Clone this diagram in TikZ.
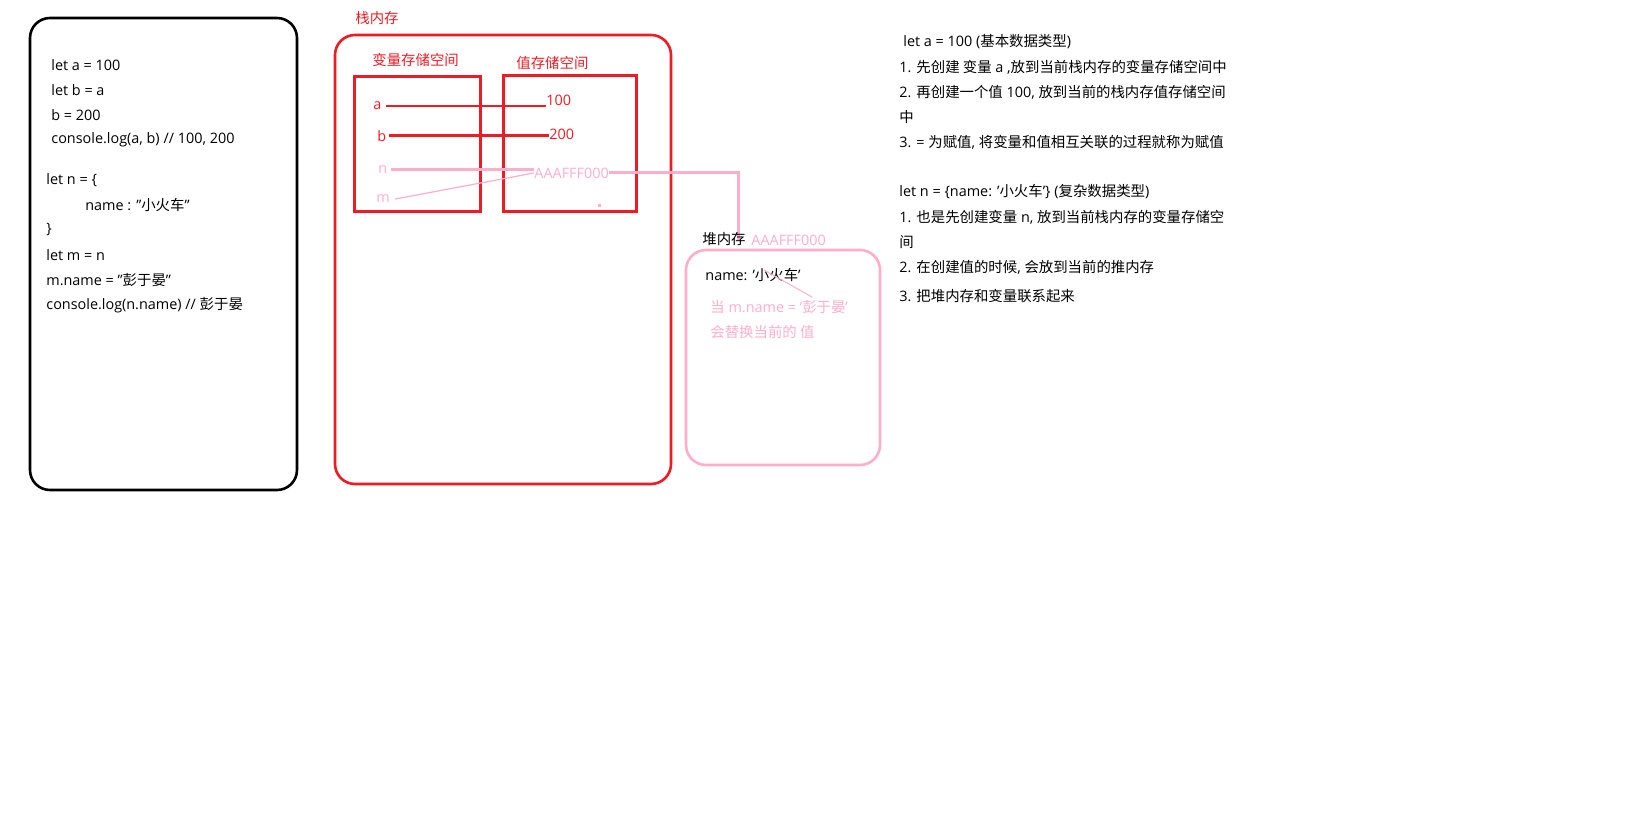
\documentclass[tikz,border=0pt]{standalone}
\usepackage{fontspec}
\setmainfont{Open Sans}
\newfontfamily\cjk{Noto Sans CJK SC}
\newcommand{\zh}[1]{{\cjk #1}}
\definecolor{rd}{HTML}{ED1C24}
\definecolor{pk}{HTML}{FFAEC9}
\begin{document}
\begin{tikzpicture}[x=0.5pt,y=-0.5pt,
  t/.style={anchor=west,inner sep=0pt,font=\fontsize{7.2}{8}\selectfont},
  box/.style={draw,line width=1.3pt,rounded corners=10pt}]
\useasboundingbox (0,0) rectangle (1631,822);
% left code box
\draw[box,black] (30,18) rectangle (297,490);
\foreach \y/\s [count=\i] in {65/{let a = 100},90/{let b = a},115/{b = 200},140/{console.log(a, b) // 100, 200}}
  \node[t] (c\i) at (51,\y) {\s};
\node[t] (c5) at (46,180) {let n = \{};
\node[t] (c6) at (85,205) {name : "\zh{小火车}"};
\node[t] (c7) at (46,230) {\}};
\node[t] (c8) at (46,255) {let m = n};
\node[t] (c9) at (46,280) {m.name = "\zh{彭于晏}"};
\node[t] (c10) at (46,305) {console.log(n.name) // \zh{彭于晏}};
% stack
\node[t,text=rd] (st) at (355,18) {\zh{栈内存}};
\draw[box,rd] (335,35) rectangle (671,484);
\node[t,text=rd] (vl) at (372,60) {\zh{变量存储空间}};
\node[t,text=rd] (vv) at (516,63) {\zh{值存储空间}};
\draw[rd,line width=1.5pt] (354,77) rectangle (480,212);
\draw[rd,line width=1.5pt] (503,76) rectangle (636,212);
\node[t,text=rd] (a) at (373,106) {a};
\node[t,text=rd] (b) at (377,136) {b};
\node[t,text=pk] (n) at (378,170) {n};
\node[t,text=pk] (m) at (376,199) {m};
\node[t,text=rd] (v1) at (546,100) {100};
\node[t,text=rd] (v2) at (549,134) {200};
\node[t,text=pk] (v3) at (534,173) {AAAFFF000};
\draw[rd,line width=0.6pt] (a.east)++(4,0) -- (v1.west|-a.east);
\draw[rd,line width=1.5pt] (b.east)++(2,0) -- (v2.west|-b.east);
\draw[pk,line width=1.5pt] (n.east)++(3,0) -- (v3.west|-n.east);
\draw[pk,line width=0.6pt] (m.east)++(5,0) -- (v3.west);
\fill[pk] (598,204) rectangle (601,207);
% heap
\coordinate (hk) at (738,173);
\draw[pk,line width=1.5pt] (v3.east) -- (hk) -- (738,240);
\node[t] (hl) at (702,239) {\zh{堆内存}};
\node[t,text=pk] (ha) at (751,240) {AAAFFF000};
\draw[box,pk] (686,250) rectangle (880,465);
\node[t] (hn) at (705,275) {name: '\zh{小火车}'};
\draw[pk,line width=0.5pt] (764,270) -- (812,297);
\node[t,text=pk] (h1) at (710,307) {\zh{当} m.name = '\zh{彭于晏}'};
\node[t,text=pk] (h2) at (710,332) {\zh{会替换当前的 值}};
% right notes
\node[t] (r1) at (903,42) {let a = 100 (\zh{基本数据类型})};
\node[t] (r2) at (899,67) {1. \zh{先创建 变量} a ,\zh{放到当前栈内存的变量存储空间中}};
\node[t] (r3) at (899,92) {2. \zh{再创建一个值} 100, \zh{放到当前的栈内存值存储空间}};
\node[t] (r4) at (899,117) {\zh{中}};
\node[t] (r5) at (899,142) {3. = \zh{为赋值}, \zh{将变量和值相互关联的过程就称为赋值}};
\node[t] (r6) at (899,192) {let n = \{name: '\zh{小火车}'\} (\zh{复杂数据类型})};
\node[t] (r7) at (899,217) {1. \zh{也是先创建变量} n, \zh{放到当前栈内存的变量存储空}};
\node[t] (r8) at (899,242) {\zh{间}};
\node[t] (r9) at (899,267) {2. \zh{在创建值的时候}, \zh{会放到当前的推内存}};
\node[t] (r10) at (899,296) {3. \zh{把堆内存和变量联系起来}};
\end{tikzpicture}
\end{document}
